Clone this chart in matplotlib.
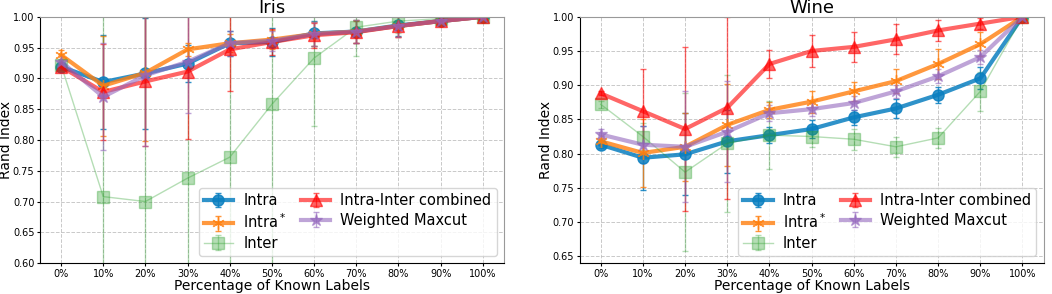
import matplotlib
matplotlib.use('Agg')
import matplotlib.pyplot as plt
import numpy as np

# ── Data ─────────────────────────────────────────────────────
pct_labels = ["0%", "10%", "20%", "30%", "40%", "50%", "60%", "70%", "80%", "90%", "100%"]

# Iris
iris_intra      = [0.919, 0.894, 0.908, 0.924, 0.957, 0.959, 0.973, 0.976, 0.986, 0.993, 1.000]
iris_intra_std  = [0.005, 0.076, 0.090, 0.030, 0.020, 0.022, 0.020, 0.018, 0.018, 0.005, 0.000]
iris_intras     = [0.938, 0.888, 0.909, 0.947, 0.957, 0.963, 0.972, 0.976, 0.985, 0.993, 1.000]
iris_intras_std = [0.008, 0.081, 0.110, 0.011, 0.015, 0.016, 0.020, 0.018, 0.018, 0.005, 0.000]
iris_inter      = [0.922, 0.708, 0.700, 0.738, 0.772, 0.858, 0.933, 0.983, 0.993, 0.997, 1.000]
iris_inter_std  = [0.005, 0.300, 0.300, 0.300, 0.300, 0.300, 0.110, 0.047, 0.020, 0.005, 0.000]
iris_comb       = [0.919, 0.878, 0.895, 0.911, 0.947, 0.959, 0.970, 0.975, 0.985, 0.993, 1.000]
iris_comb_std   = [0.005, 0.078, 0.105, 0.110, 0.067, 0.021, 0.020, 0.018, 0.018, 0.005, 0.000]
iris_wmc        = [0.927, 0.870, 0.905, 0.927, 0.957, 0.961, 0.972, 0.976, 0.985, 0.993, 1.000]
iris_wmc_std    = [0.005, 0.087, 0.115, 0.083, 0.020, 0.016, 0.020, 0.018, 0.018, 0.005, 0.000]

# Wine
wine_intra      = [0.813, 0.794, 0.799, 0.818, 0.827, 0.836, 0.853, 0.866, 0.886, 0.910, 1.000]
wine_intra_std  = [0.005, 0.047, 0.060, 0.046, 0.012, 0.013, 0.011, 0.014, 0.012, 0.016, 0.000]
wine_intras     = [0.818, 0.801, 0.810, 0.842, 0.864, 0.876, 0.891, 0.906, 0.931, 0.960, 1.000]
wine_intras_std = [0.005, 0.050, 0.050, 0.060, 0.012, 0.016, 0.014, 0.017, 0.022, 0.018, 0.000]
wine_inter      = [0.872, 0.825, 0.773, 0.815, 0.827, 0.825, 0.821, 0.810, 0.823, 0.891, 1.000]
wine_inter_std  = [0.005, 0.020, 0.115, 0.100, 0.050, 0.015, 0.015, 0.015, 0.015, 0.028, 0.000]
wine_comb       = [0.888, 0.862, 0.836, 0.867, 0.931, 0.950, 0.956, 0.967, 0.980, 0.990, 1.000]
wine_comb_std   = [0.003, 0.062, 0.120, 0.133, 0.020, 0.023, 0.022, 0.022, 0.015, 0.008, 0.000]
wine_wmc        = [0.828, 0.813, 0.810, 0.832, 0.859, 0.865, 0.874, 0.891, 0.913, 0.941, 1.000]
wine_wmc_std    = [0.008, 0.027, 0.081, 0.074, 0.012, 0.010, 0.010, 0.010, 0.010, 0.010, 0.000]

# ── Styles ───────────────────────────────────────────────────
STYLES = [
    dict(label="Intra",                color="#0a7fc0",    marker="o",       lw=3,   ms=8, alpha=0.85),
    dict(label="Intra$^*$",            color="tab:orange", marker=(6, 2, 0), lw=3,   ms=9, alpha=0.8),
    dict(label="Inter",                color="tab:green",  marker="s",       lw=1,   ms=8, alpha=0.35),
    dict(label="Intra-Inter combined", color="red",        marker="^",       lw=3,   ms=8, alpha=0.6),
    dict(label="Weighted Maxcut",      color="tab:purple", marker="*",       lw=3,   ms=9, alpha=0.6),
]


def panel(ax, title, series, ylim, yticks):
    x = np.arange(len(pct_labels))
    for (mean, std), st in zip(series, STYLES):
        ax.errorbar(x, mean, yerr=std, label=st["label"], color=st["color"],
                    marker=st["marker"], linewidth=st["lw"], markersize=st["ms"],
                    alpha=st["alpha"], capsize=2, elinewidth=1)
    ax.set_title(title, fontsize=13, pad=2)
    ax.set_xticks(x)
    ax.set_xticklabels(pct_labels, fontsize=7)
    ax.set_yticks(yticks)
    ax.set_yticklabels([f"{t:.2f}" for t in yticks], fontsize=7)
    ax.set_ylim(*ylim)
    ax.set_xlim(-0.5, len(pct_labels) - 0.5)
    ax.set_xlabel("Percentage of Known Labels", fontsize=10, labelpad=0)
    ax.set_ylabel("Rand Index", fontsize=10)
    ax.yaxis.set_label_coords(-0.058, 0.5)
    ax.grid(True, linestyle="--", color="#bbbbbb", linewidth=0.7, alpha=0.8)
    ax.tick_params(length=2.5, pad=1.5)
    for sp in ["top", "right"]:
        ax.spines[sp].set_color("#999999")
    ax.legend(ncol=2, loc="lower right", fontsize=10.5, handlelength=2.0,
              handletextpad=0.7, columnspacing=1.0, borderpad=0.35,
              labelspacing=0.3, framealpha=0.8)


fig = plt.figure(figsize=(10.52, 2.94), dpi=100)
ax1 = fig.add_axes([0.038, 0.105, 0.441, 0.838])
ax2 = fig.add_axes([0.551, 0.105, 0.441, 0.838])

panel(ax1, "Iris",
      [(iris_intra, iris_intra_std), (iris_intras, iris_intras_std),
       (iris_inter, iris_inter_std), (iris_comb, iris_comb_std),
       (iris_wmc, iris_wmc_std)],
      (0.60, 1.00), np.arange(0.60, 1.001, 0.05))
panel(ax2, "Wine",
      [(wine_intra, wine_intra_std), (wine_intras, wine_intras_std),
       (wine_inter, wine_inter_std), (wine_comb, wine_comb_std),
       (wine_wmc, wine_wmc_std)],
      (0.64, 1.00), np.arange(0.65, 1.001, 0.05))

fig.savefig("out.png", dpi=100, facecolor="white")
